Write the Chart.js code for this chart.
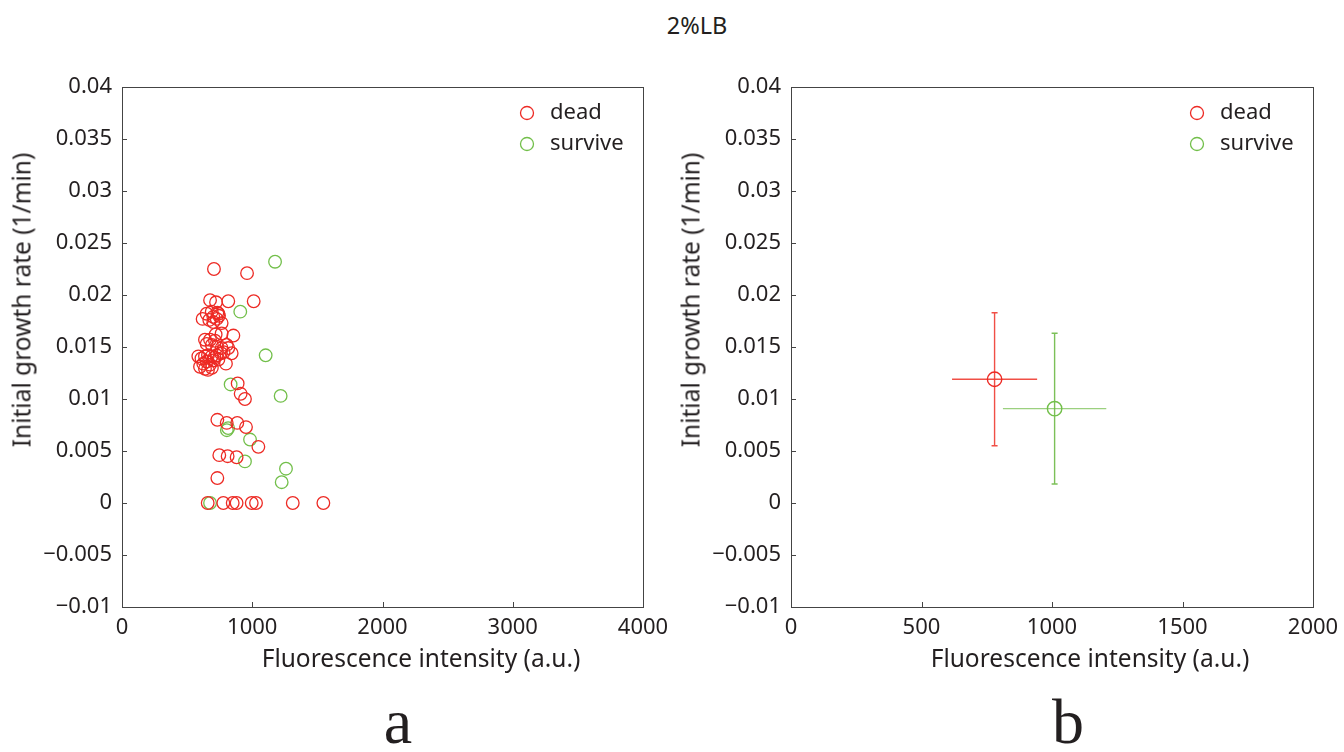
<!DOCTYPE html>
<html>
<head>
<meta charset="utf-8">
<script src="https://cdn.jsdelivr.net/npm/chart.js@4.4.1/dist/chart.umd.min.js"></script>
<style>
  html, body { margin: 0; padding: 0; background: #fff; }
  body { width: 1344px; height: 752px; position: relative; overflow: hidden; font-family: "Noto Sans", "Open Sans", sans-serif; color: #231f20; }
  .wrap { position: absolute; top: 0; width: 672px; height: 700px; }
  .txt { position: absolute; white-space: nowrap; color: #231f20; }
  .ytitle { transform: translate(-50%, -50%) rotate(-90deg); font-size: 24.5px; }
  .xtitle { transform: translate(-50%, -50%); font-size: 24.5px; }
  .panel { font-family: "Liberation Serif", "DejaVu Serif", serif; font-size: 64px; transform: translate(-50%, 0); line-height: 1; }
</style>
</head>
<body>
<div class="txt" style="left:697px; top:25px; transform:translate(-50%,-50%); font-size:23.5px;">2%LB</div>
<div class="wrap" style="left:0"><canvas id="ca"></canvas></div>
<div class="wrap" style="left:672px"><canvas id="cb"></canvas></div>
<div class="txt ytitle" style="left:21px; top:300px;">Initial growth rate (1/min)</div>
<div class="txt ytitle" style="left:690px; top:300px;">Initial growth rate (1/min)</div>
<div class="txt xtitle" style="left:421px; top:657px;">Fluorescence intensity (a.u.)</div>
<div class="txt xtitle" style="left:1090px; top:657px;">Fluorescence intensity (a.u.)</div>
<div class="txt panel" style="left:398px; top:690px;">a</div>
<div class="txt panel" style="left:1068px; top:690px;">b</div>
<script>
// ---------- data ----------
const seriesNames = ['dead', 'survive'];

const deadX = [706, 960, 676, 722, 816, 1011,
  650, 689, 732, 745, 619, 670, 701, 727, 765, 701, 740,
  719, 765, 855,
  637, 676, 714, 650, 690, 730, 804, 765, 816, 842, 780,
  586, 610, 637, 660, 689, 727, 710, 624, 676, 798, 650, 700, 637, 599, 660, 690, 740, 760,
  888, 911, 944, 732, 804, 885, 952, 1047, 747, 811, 880, 732,
  658, 778, 850, 880, 996, 1029, 1311, 1546];
const deadY = [0.0225, 0.0221, 0.0195, 0.0193, 0.0194, 0.0194,
  0.0182, 0.0184, 0.0183, 0.0180, 0.0177, 0.0176, 0.0179, 0.0177, 0.0173, 0.0174, 0.0182,
  0.0162, 0.0163, 0.0161,
  0.0157, 0.0157, 0.0156, 0.0153, 0.0152, 0.0150, 0.0152, 0.0149, 0.0149, 0.0144, 0.0145,
  0.0141, 0.0139, 0.0141, 0.0142, 0.0141, 0.0142, 0.0140, 0.0134, 0.0133, 0.0134, 0.0136, 0.0137, 0.0129, 0.0131, 0.0128, 0.0130, 0.0138, 0.0144,
  0.0115, 0.0105, 0.0100, 0.0080, 0.0077, 0.0077, 0.0073, 0.0054, 0.0046, 0.0045, 0.0044, 0.0024,
  0, 0, 0, 0, 0, 0, 0, 0];

const surviveX = [1175, 908, 1103, 834, 1218, 815, 805, 983, 944, 1259, 1226, 676];
const surviveY = [0.0232, 0.0184, 0.0142, 0.0114, 0.0103, 0.0072, 0.0070, 0.0061, 0.0040, 0.0033, 0.0020, 0];

// panel b: means and errors
const meanX = [780, 1010];
const meanY = [0.0119, 0.00907];
const errX = [163, 198];
const errY = [0.0064, 0.00725];

const yTickLabels = ['\u22120.01', '\u22120.005', '0', '0.005', '0.01', '0.015', '0.02', '0.025', '0.03', '0.035', '0.04'];
const xTicksA = ['0', '1000', '2000', '3000', '4000'];
const xTicksB = ['0', '500', '1000', '1500', '2000'];

// ---------- styling ----------
const RED = '#ed2a24';
const GREEN = '#72bf4a';
const ERR_RED = 'rgba(238,60,50,0.9)';
const ERR_GREEN_V = 'rgba(110,185,70,0.9)';
const ERR_GREEN_H = 'rgba(150,205,120,0.95)';
const INK = '#231f20';
const AXIS = '#444';
const TICK_FONT = { family: '"Noto Sans", sans-serif', size: 22 };

const zip = (xs, ys) => xs.map((x, i) => ({ x: x, y: ys[i] }));

const framePlugin = {
  id: 'frame',
  afterDatasetsDraw(chart) {
    const ctx = chart.ctx, a = chart.chartArea;
    ctx.save();
    ctx.strokeStyle = AXIS;
    ctx.lineWidth = 1;
    ctx.strokeRect(Math.round(a.left) + 0.5, Math.round(a.top) + 0.5, Math.round(a.right - a.left), Math.round(a.bottom - a.top));
    const xs = chart.scales.x, ys = chart.scales.y;
    ctx.beginPath();
    xs.ticks.forEach(t => {
      const px = Math.round(xs.getPixelForValue(t.value)) + 0.5;
      ctx.moveTo(px, a.bottom); ctx.lineTo(px, a.bottom - 5);
    });
    ys.ticks.forEach(t => {
      const py = Math.round(ys.getPixelForValue(t.value)) + 0.5;
      ctx.moveTo(a.left, py); ctx.lineTo(a.left + 5, py);
    });
    ctx.stroke();
    ctx.restore();
  }
};

const legendPlugin = {
  id: 'innerLegend',
  afterDraw(chart) {
    const ctx = chart.ctx, a = chart.chartArea;
    ctx.save();
    chart.data.datasets.forEach((ds, i) => {
      if (!ds.label) return;
      const cx = a.right - 116, cy = a.top + 26 + i * 31;
      ctx.beginPath();
      ctx.arc(cx, cy, 6.5, 0, Math.PI * 2);
      ctx.strokeStyle = ds.borderColor;
      ctx.lineWidth = 1.3;
      ctx.stroke();
      ctx.fillStyle = INK;
      ctx.font = '22px "Noto Sans", sans-serif';
      ctx.textBaseline = 'middle';
      ctx.textAlign = 'left';
      ctx.fillText(ds.label, cx + 23, cy);
    });
    ctx.restore();
  }
};

const errorPlugin = {
  id: 'errbars',
  beforeDatasetsDraw(chart) {
    const opts = chart.options.plugins.errbars;
    if (!opts || !opts.enabled) return;
    const ctx = chart.ctx, xs = chart.scales.x, ys = chart.scales.y;
    ctx.save();
    ctx.lineWidth = 1.4;
    meanX.forEach((mx, i) => {
      const px = xs.getPixelForValue(mx), py = ys.getPixelForValue(meanY[i]);
      const x1 = xs.getPixelForValue(mx - errX[i]), x2 = xs.getPixelForValue(mx + errX[i]);
      const y1 = ys.getPixelForValue(meanY[i] + errY[i]), y2 = ys.getPixelForValue(meanY[i] - errY[i]);
      ctx.strokeStyle = i === 0 ? ERR_RED : ERR_GREEN_H;
      ctx.beginPath(); ctx.moveTo(x1, py); ctx.lineTo(x2, py); ctx.stroke();
      ctx.strokeStyle = i === 0 ? ERR_RED : ERR_GREEN_V;
      ctx.beginPath();
      ctx.moveTo(px, y1); ctx.lineTo(px, y2);
      ctx.moveTo(px - 3, y1); ctx.lineTo(px + 3, y1);
      ctx.moveTo(px - 3, y2); ctx.lineTo(px + 3, y2);
      ctx.stroke();
    });
    ctx.restore();
  }
};

function makeOptions(xMax, xStep, xLabels, rightPad, yWidth, errOn) {
  return {
    responsive: true,
    maintainAspectRatio: false,
    animation: false,
    layout: { padding: { top: 87, right: rightPad, left: 0, bottom: 0 } },
    plugins: {
      legend: { display: false },
      tooltip: { enabled: false },
      errbars: { enabled: errOn }
    },
    scales: {
      x: {
        type: 'linear', min: 0, max: xMax,
        grid: { display: false, drawTicks: false },
        border: { display: false },
        ticks: {
          stepSize: xStep, padding: 8, color: INK, font: TICK_FONT,
          callback: (v, i) => xLabels[i]
        },
        afterFit: s => { s.height = 93; s.paddingLeft = 0; s.paddingRight = 0; }
      },
      y: {
        type: 'linear', min: -0.01, max: 0.04,
        grid: { display: false, drawTicks: false },
        border: { display: false },
        ticks: {
          stepSize: 0.005, padding: 10, color: INK, font: TICK_FONT,
          callback: (v, i) => yTickLabels[i]
        },
        afterFit: s => { s.width = yWidth; s.paddingTop = 0; s.paddingBottom = 0; }
      }
    }
  };
}

new Chart(document.getElementById('ca'), {
  type: 'scatter',
  data: {
    datasets: [
      { label: seriesNames[0], data: zip(deadX, deadY), borderColor: RED, backgroundColor: 'rgba(0,0,0,0)', pointRadius: 6.3, borderWidth: 1.3 },
      { label: seriesNames[1], data: zip(surviveX, surviveY), borderColor: GREEN, backgroundColor: 'rgba(0,0,0,0)', pointRadius: 6.3, borderWidth: 1.3 }
    ]
  },
  options: makeOptions(4000, 1000, xTicksA, 29, 122, false),
  plugins: [framePlugin, legendPlugin, errorPlugin]
});

new Chart(document.getElementById('cb'), {
  type: 'scatter',
  data: {
    datasets: [
      { label: seriesNames[0], data: [{ x: meanX[0], y: meanY[0] }], borderColor: RED, backgroundColor: 'rgba(0,0,0,0)', pointRadius: 7.2, borderWidth: 1.4 },
      { label: seriesNames[1], data: [{ x: meanX[1], y: meanY[1] }], borderColor: GREEN, backgroundColor: 'rgba(0,0,0,0)', pointRadius: 7.2, borderWidth: 1.4 }
    ]
  },
  options: makeOptions(2000, 500, xTicksB, 31, 119, true),
  plugins: [framePlugin, legendPlugin, errorPlugin]
});
</script>
</body>
</html>
